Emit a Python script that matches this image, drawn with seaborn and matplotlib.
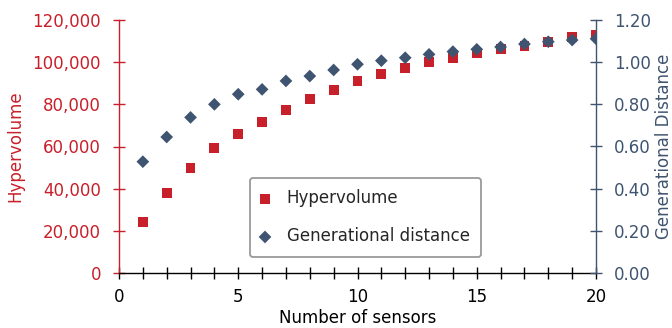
import matplotlib
matplotlib.use("Agg")
import matplotlib.pyplot as plt
import seaborn as sns
import pandas as pd
from matplotlib.ticker import FuncFormatter, MultipleLocator

sensors = list(range(1, 21))
hypervolume = [24200, 38100, 49800, 59300, 65800, 71600, 77200, 82400, 86800, 91200,
               94400, 97100, 99900, 102000, 104200, 106100, 107700, 109400, 111900, 112700]
gen_distance = [0.528, 0.645, 0.738, 0.800, 0.848, 0.871, 0.911, 0.934, 0.963, 0.990,
                1.007, 1.021, 1.037, 1.050, 1.061, 1.072, 1.086, 1.097, 1.105, 1.111]

RED = "#c8202a"
BLUE = "#3f5470"

sns.set_style("white")
plt.rcParams["font.family"] = ["DejaVu Sans"]
plt.rcParams["font.size"] = 12

df = pd.DataFrame({"sensors": sensors, "hv": hypervolume, "gd": gen_distance})

fig = plt.figure(figsize=(6.72, 3.28), dpi=100)
ax = fig.add_axes([119 / 672, 1 - 273 / 328, (596 - 119) / 672, (273 - 20) / 328])
ax2 = ax.twinx()

sns.scatterplot(data=df, x="sensors", y="hv", ax=ax, marker="s", color=RED,
                s=50, edgecolor="none", label="Hypervolume", legend=False, zorder=3)
sns.scatterplot(data=df, x="sensors", y="gd", ax=ax2, marker="D", color=BLUE,
                s=42, edgecolor="none", label="Generational distance", legend=False, zorder=4)

ax.set_xlim(0, 20)
ax.set_ylim(0, 120000)
ax2.set_ylim(0, 1.2)

ax.xaxis.set_major_locator(MultipleLocator(5))
ax.xaxis.set_minor_locator(MultipleLocator(1))
ax.yaxis.set_major_locator(MultipleLocator(20000))
ax2.yaxis.set_major_locator(MultipleLocator(0.2))
ax.yaxis.set_major_formatter(FuncFormatter(lambda v, p: f"{int(v):,}"))
ax2.yaxis.set_major_formatter(FuncFormatter(lambda v, p: f"{v:.2f}"))

for a in (ax, ax2):
    a.spines["top"].set_visible(False)
ax.spines["right"].set_visible(False)
ax2.spines["left"].set_visible(False)
ax2.spines["bottom"].set_visible(False)
ax.spines["left"].set_color(RED)
ax2.spines["right"].set_color(BLUE)
ax.spines["bottom"].set_color("black")
for s in ("left", "bottom"):
    ax.spines[s].set_linewidth(1.0)
ax2.spines["right"].set_linewidth(1.0)

ax.tick_params(axis="x", which="both", direction="inout", length=8, width=1,
               colors="black", labelsize=12, bottom=True, pad=7)
ax.tick_params(axis="y", direction="inout", length=8, width=1, colors=RED,
               labelsize=12, left=True, pad=9)
ax2.tick_params(axis="y", direction="inout", length=8, width=1, colors=BLUE,
                labelsize=12, right=True, pad=9)

ax.set_xlabel("Number of sensors", fontsize=12, color="black", labelpad=2)
ax.set_ylabel("Hypervolume", fontsize=12, color=RED, labelpad=6)
ax2.set_ylabel("Generational Distance", fontsize=12, color=BLUE, labelpad=3)

h1, l1 = ax.get_legend_handles_labels()
h2, l2 = ax2.get_legend_handles_labels()
leg = ax2.legend(h1 + h2, l1 + l2, loc="lower left",
                 bbox_to_anchor=((250 - 119) / 477, (273 - 257) / 253),
                 borderaxespad=0, fontsize=12, frameon=True, fancybox=True,
                 borderpad=0.7, labelspacing=1.2, handlelength=0.4,
                 handletextpad=1.1, markerscale=1.0)
leg.get_frame().set_edgecolor("#808080")
leg.get_frame().set_linewidth(1.3)

fig.savefig("out.png", dpi=100)
